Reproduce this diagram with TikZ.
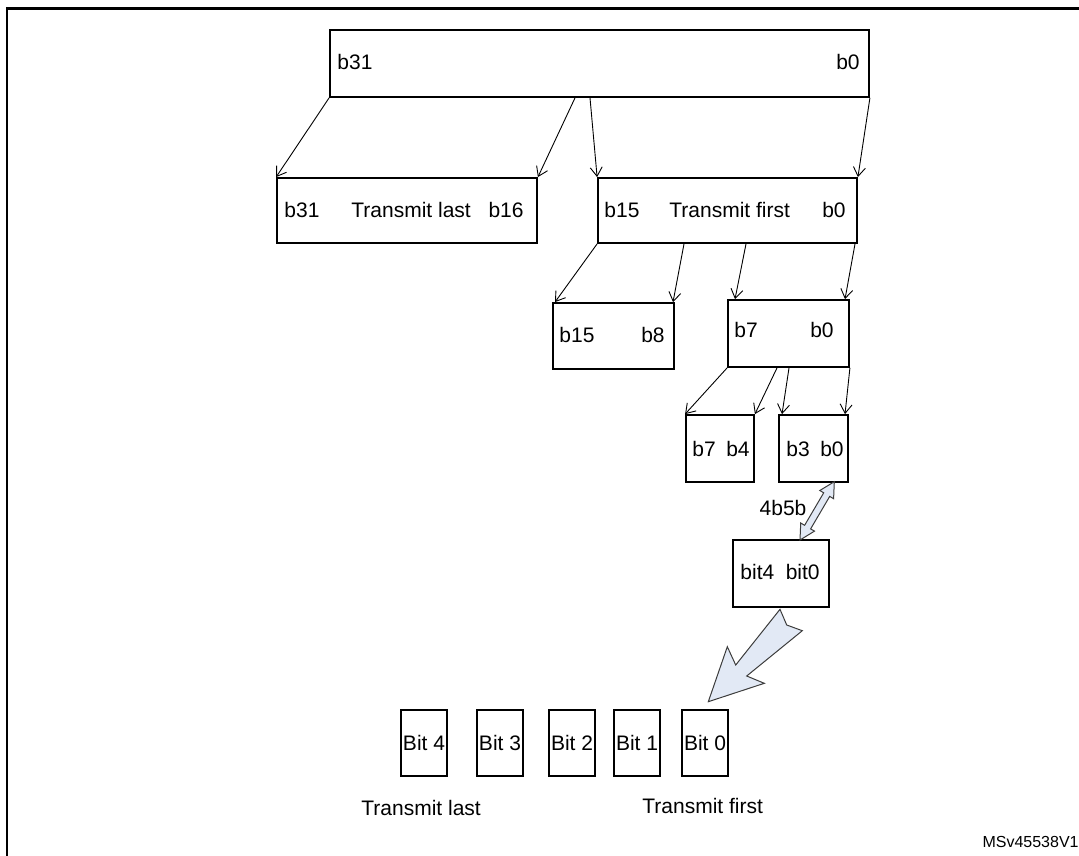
\documentclass[tikz,border=0pt]{standalone}
\usepackage{fontspec}
\setmainfont{Liberation Sans}
\usetikzlibrary{arrows.meta, positioning, fit}
\definecolor{arrowfill}{RGB}{226, 233, 245}
\definecolor{edgegray}{RGB}{60, 60, 60}

\begin{document}
\begin{tikzpicture}[x=0.5pt, y=-0.5pt,
  box/.style={draw, line width=0.9pt, inner sep=0pt},
  lbl/.style={inner sep=0pt, font=\fontsize{10.5}{12}\selectfont},
  cell/.style={draw, line width=0.9pt, inner sep=0pt, minimum width=23.3pt, minimum height=33.3pt, font=\fontsize{10.5}{12}\selectfont},
  link/.style={line width=0.45pt, -{Straight Barb[length=4.5pt, width=6pt]}},
  fat/.style={draw=edgegray, line width=0.5pt, fill=arrowfill, line join=miter}]
  \path[use as bounding box] (0,0) rectangle (1079,855);
  \clip (0,0) rectangle (1079,855);
  % Outer frame
  \draw[line width=1.3pt] (7,8.5) rectangle (1100,880);

  % 32-bit word
  \node[box, fit={(330,30) (869,97)}] (word) {};
  \node[lbl, anchor=west] (wordHi) at (337,62) {b31};
  \node[lbl, anchor=east] (wordLo) at (860,62) {b0};

  % Half words
  \node[box, fit={(277,178) (537,243)}] (hiHalf) {};
  \node[lbl, anchor=west] (hiHalfA) at (284,210) {b31};
  \node[lbl, anchor=west] (hiHalfT) at (351,210) {Transmit last};
  \node[lbl, anchor=east] (hiHalfB) at (524,210) {b16};

  \node[box, fit={(598,178) (857,243)}] (loHalf) {};
  \node[lbl, anchor=west] (loHalfA) at (604,210) {b15};
  \node[lbl, anchor=west] (loHalfT) at (669,210) {Transmit first};
  \node[lbl, anchor=east] (loHalfB) at (846,210) {b0};

  % Bytes
  \node[box, fit={(553,303) (674,369)}] (hiByte) {};
  \node[lbl, anchor=west] (hiByteA) at (559,335) {b15};
  \node[lbl, anchor=east] (hiByteB) at (665,335) {b8};

  \node[box, fit={(728,300) (849,367)}] (loByte) {};
  \node[lbl, anchor=west] (loByteA) at (734,330) {b7};
  \node[lbl, anchor=east] (loByteB) at (834,330) {b0};

  % Nibbles
  \node[box, fit={(686,415) (754,482)}] (hiNib) {};
  \node[lbl, anchor=west] (hiNibA) at (692,449) {b7};
  \node[lbl, anchor=east] (hiNibB) at (750,449) {b4};

  \node[box, fit={(779,415) (848,482)}] (loNib) {};
  \node[lbl, anchor=west] (loNibA) at (786,449) {b3};
  \node[lbl, anchor=east] (loNibB) at (844,449) {b0};

  % 5-bit code
  \node[box, fit={(733,540) (829,607)}] (code) {};
  \node[lbl, anchor=west] (codeA) at (740,572) {bit4};
  \node[lbl, anchor=east] (codeB) at (820,572) {bit0};

  % Split links
  \draw[link] (word.south west) -- (hiHalf.north west);
  \draw[link] (575,0 |- word.south) -- (hiHalf.north east);
  \draw[link] (590,0 |- word.south) -- (loHalf.north west);
  \draw[link] (word.south east) -- (loHalf.north east);

  \draw[link] (loHalf.south west) -- (555,0 |- hiByte.north);
  \draw[link] (684,0 |- loHalf.south) -- (673,0 |- hiByte.north);
  \draw[link] (746,0 |- loHalf.south) -- (735,0 |- loByte.north);
  \draw[link] (855,0 |- loHalf.south) -- (845,0 |- loByte.north);

  \draw[link] (loByte.south west) -- (hiNib.north west);
  \draw[link] (777,0 |- loByte.south) -- (hiNib.north east);
  \draw[link] (789,0 |- loByte.south) -- (782,0 |- loNib.north);
  \draw[link] (loByte.south east) -- (845,0 |- loNib.north);

  % 4b5b double arrow
  \draw[fat] (800,540) -- (814.5,531.1) -- (810.6,528.9) -- (829.7,496.4) -- (833.6,498.7)
    -- (834.3,481.7) -- (819.8,490.5) -- (823.7,492.8) -- (804.6,525.3) -- (800.7,523.0) -- cycle;
  \node[lbl] (enc) at (783,508) {4b5b};

  % Output arrow
  \draw[fat] (780,609.3) -- (786.7,625) -- (802.3,630.7) -- (746.7,676) -- (764.3,683.3)
    -- (708.3,701.7) -- (727.3,646.7) -- (735.7,665) -- cycle;

  % Serial bits
  \foreach \i/\cx in {4/424, 3/500, 2/572, 1/637, 0/705}
    \node[cell] (bit\i) at (\cx,743) {Bit \i};
  \node[lbl, anchor=west] (lastTx) at (361,808) {Transmit last};
  \node[lbl, anchor=west] (firstTx) at (642,806) {Transmit first};

  \node[lbl, anchor=east, font=\fontsize{8}{10}\selectfont] (ref) at (1079,842) {MSv45538V1};
\end{tikzpicture}
\end{document}
